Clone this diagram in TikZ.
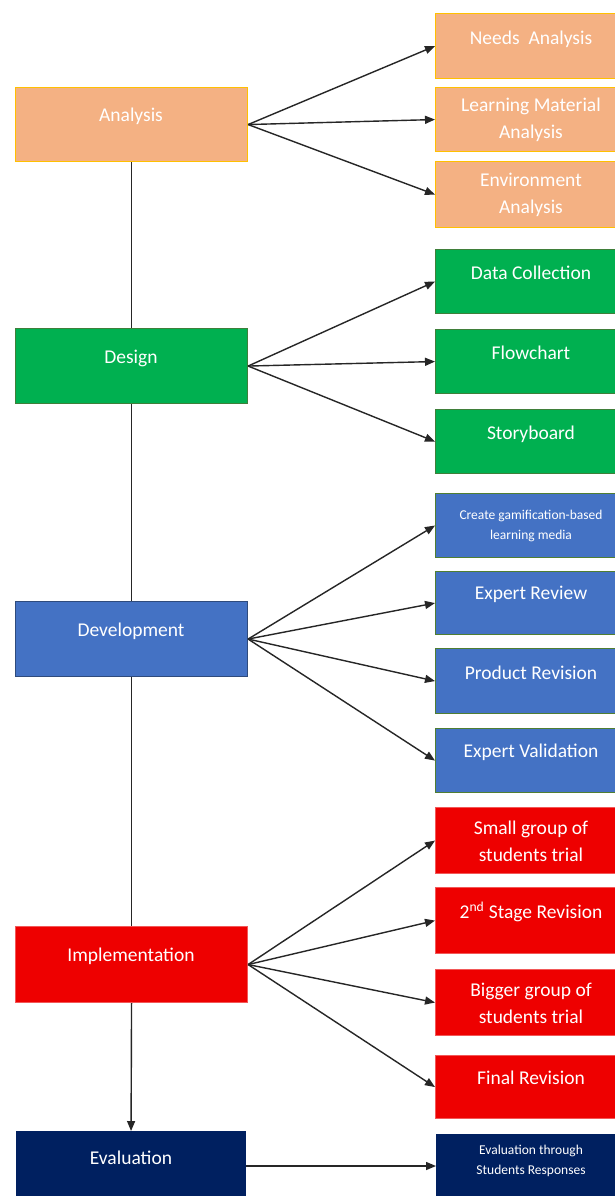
\documentclass[tikz,border=0pt]{standalone}
\usepackage{fontspec}
\setmainfont{Carlito}
\usetikzlibrary{arrows.meta}
\definecolor{orfill}{HTML}{F4B183}
\definecolor{ordraw}{HTML}{FFC000}
\definecolor{grfill}{HTML}{00B050}
\definecolor{grdraw}{HTML}{3F7F3A}
\definecolor{blfill}{HTML}{4472C4}
\definecolor{bldraw}{HTML}{2F4B7C}
\definecolor{blrdraw}{HTML}{507E32}
\definecolor{rdfill}{HTML}{EE0000}
\definecolor{rddraw}{HTML}{F25858}
\definecolor{nvfill}{HTML}{002060}
\begin{document}
\begin{tikzpicture}[x=1pt,y=-1pt,
  lbox/.style={draw, line width=1.1pt, inner sep=0pt, anchor=north west, minimum width=232pt},
  rbox/.style={draw, line width=1.1pt, inner sep=0pt, anchor=north west, minimum width=190pt},
  orb/.style={fill=orfill, draw=ordraw},
  grb/.style={fill=grfill, draw=grdraw},
  blb/.style={fill=blfill, draw=bldraw},
  blr/.style={fill=blfill, draw=blrdraw},
  rdb/.style={fill=rdfill, draw=rddraw},
  nvb/.style={fill=nvfill, draw=nvfill},
  txt/.style={text=white, inner sep=0pt, anchor=center, yshift=-4pt, font=\fontsize{19.5}{27}\selectfont, text height=1.5ex, text depth=0.25ex},
  txtb/.style={text=white, inner sep=0pt, anchor=center, align=center, font=\fontsize{19.5}{27}\selectfont},
  txts/.style={text=white, inner sep=0pt, anchor=center, align=center, font=\fontsize{13.5}{20}\selectfont},
  conn/.style={line width=1.4pt, draw=black!85},
  arr/.style={conn, -{Triangle[length=10pt,width=8pt]}}
]
\clip (0,0) rectangle (615,1196);
\fill[white] (0,0) rectangle (615,1196);

% left column
\node[lbox, orb, minimum height=74pt] (an) at (15,87) {};
\node[lbox, grb, minimum height=75pt] (de) at (15,328) {};
\node[lbox, blb, minimum height=75pt] (dv) at (15,601) {};
\node[lbox, rdb, minimum height=76pt] (im) at (15,926) {};
\node[lbox, nvb, minimum width=229pt, minimum height=72pt] (ev) at (16,1131) {};

\node[txt] (an-t) at (131,115) {Analysis};
\node[txt] (de-t) at (131,357) {Design};
\node[txt] (dv-t) at (131,630) {Development};
\node[txt] (im-t) at (131,955) {Implementation};
\node[txt] (ev-t) at (131,1158) {Evaluation};

% analysis branch
\node[rbox, orb, minimum height=65pt] (a1) at (435,13) {};
\node[rbox, orb, minimum height=64pt] (a2) at (435,87) {};
\node[rbox, orb, minimum height=66pt] (a3) at (435,161) {};
\node[txt] (a1-t) at (531,38) {Needs\ \ Analysis};
\node[txtb] (a2-t) at (531,120) {Learning Material\\Analysis};
\node[txtb] (a3-t) at (531,195) {Environment\\Analysis};

% design branch
\node[rbox, grb, minimum height=64pt] (d1) at (435,249) {};
\node[rbox, grb, minimum height=64pt] (d2) at (435,329) {};
\node[rbox, grb, minimum height=64pt] (d3) at (435,409) {};
\node[txt] (d1-t) at (531,273) {Data Collection};
\node[txt] (d2-t) at (531,353) {Flowchart};
\node[txt] (d3-t) at (531,433) {Storyboard};

% development branch
\node[rbox, blr, minimum height=64pt] (v1) at (435,493) {};
\node[rbox, blr, minimum height=63pt] (v2) at (435,571) {};
\node[rbox, blr, minimum height=65pt] (v3) at (435,648) {};
\node[rbox, blr, minimum height=64pt] (v4) at (435,728) {};
\node[txts] (v1-t) at (531,526) {Create gamification-based\\learning media};
\node[txt] (v2-t) at (531,593) {Expert Review};
\node[txt] (v3-t) at (531,673) {Product Revision};
\node[txt] (v4-t) at (531,751) {Expert Validation};

% implementation branch
\node[rbox, rdb, minimum height=66pt] (i1) at (435,807) {};
\node[rbox, rdb, minimum height=66pt] (i2) at (435,887) {};
\node[rbox, rdb, minimum height=66pt] (i3) at (435,969) {};
\node[rbox, rdb, minimum height=63pt] (i4) at (435,1055) {};
\node[txtb] (i1-t) at (531,841) {Small group of\\students trial};
\node[txt] (i2-t) at (531,912) {2\textsuperscript{nd} Stage Revision};
\node[txtb] (i3-t) at (531,1003) {Bigger group of\\students trial};
\node[txt] (i4-t) at (531,1078) {Final Revision};

% evaluation branch
\node[rbox, nvb, minimum width=189pt, minimum height=66pt] (e1) at (436,1134) {};
\node[txts] (e1-t) at (531,1161) {Evaluation through\\Students Responses};

% vertical spine
\draw[conn] (an.south) -- (de.north);
\draw[conn] (de.south) -- (dv.north);
\draw[conn] (dv.south) -- (im.north);
\draw[arr] (im.south) -- (ev.north);

% fans
\foreach \t in {a1,a2,a3} \draw[arr] (an.east) -- (\t.west);
\foreach \t in {d1,d2,d3} \draw[arr] (de.east) -- (\t.west);
\foreach \t in {v1,v2,v3,v4} \draw[arr] (dv.east) -- (\t.west);
\foreach \t in {i1,i2,i3,i4} \draw[arr] (im.east) -- (\t.west);
\draw[arr] (ev.east |- 0,1166) coordinate (evo) -- (e1.west |- 0,1166) coordinate (evi);
\end{tikzpicture}
\end{document}
